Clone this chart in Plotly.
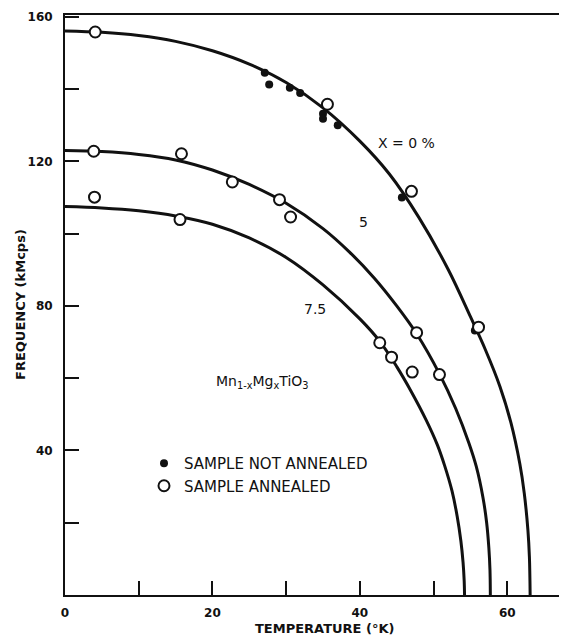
import plotly.graph_objects as go

# ---- fitted curves ----
curve0_T = [0, 5, 10, 15, 20, 25, 30, 35, 40, 44, 48, 52, 55, 57, 59, 60.5, 61.7, 62.3, 62.8, 63.0, 63.1]
curve0_F = [156.1, 155.7, 154.8, 153.2, 150.6, 146.9, 141.8, 134.8, 125.6, 116.5, 104.5, 90.0, 77.0, 68.0,
            57.7, 47.6, 36.3, 28.2, 17.9, 10.5, 0]

curve5_T = [0, 5, 10, 15, 20, 25, 30, 35, 38.6, 42, 45, 47.7, 50.8, 53, 54.8, 55.8, 56.7, 57.2, 57.5, 57.65, 57.7]
curve5_F = [123.0, 122.7, 121.9, 120.4, 117.6, 113.6, 108.4, 101.4, 94.9, 87.6, 80.0, 72.3, 61.2, 51.6, 42.0,
            35.5, 27.0, 20.0, 13.0, 7.0, 0]

curve75_T = [0, 5, 10, 15, 20, 25, 30, 35, 40, 42.7, 45, 47, 49, 50.5, 51.5, 52.5, 53.2, 53.7, 54.0, 54.15, 54.2]
curve75_F = [107.5, 107.1, 106.3, 104.9, 102.6, 98.8, 93.4, 85.8, 76.4, 70.2, 63.2, 56.2, 48.4, 41.6, 35.8,
             28.8, 21.8, 15.0, 9.0, 4.0, 0]

# ---- measured points ----
not_annealed_T = [27.1, 27.7, 30.5, 31.9, 35.0, 35.0, 37.0, 45.7, 55.6]
not_annealed_F = [144.5, 141.3, 140.4, 138.9, 133.2, 131.8, 130.0, 110.0, 73.2]

annealed0_T = [4.1, 35.6, 47.0, 56.1]
annealed0_F = [155.8, 135.8, 111.7, 74.1]
annealed5_T = [3.9, 15.8, 22.7, 29.1, 30.6, 47.7, 50.8]
annealed5_F = [122.8, 122.1, 114.3, 109.4, 104.6, 72.6, 61.0]
annealed75_T = [4.0, 15.6, 42.7, 44.3, 47.1]
annealed75_F = [110.1, 103.9, 69.8, 65.8, 61.7]

# ---- ticks ----
x_tick_vals = [0, 20, 40, 60]
x_tick_text = ["0", "20", "40", "60"]
x_minor_step = 10
y_tick_vals = [40, 80, 120, 160]
y_tick_text = ["40", "80", "120", "160"]
y_minor_step = 20

FONT = "DejaVu Sans"
INK = "#111111"

fig = go.Figure()

for T, F in [(curve0_T, curve0_F), (curve5_T, curve5_F), (curve75_T, curve75_F)]:
    fig.add_trace(go.Scatter(x=T, y=F, mode="lines", line=dict(color=INK, width=3, shape="spline", smoothing=1.0),
                             showlegend=False, hoverinfo="skip"))

fig.add_trace(go.Scatter(x=not_annealed_T, y=not_annealed_F, mode="markers",
                         marker=dict(symbol="circle", size=8, color=INK, line=dict(width=0)),
                         name="SAMPLE NOT ANNEALED", showlegend=True))

ann_T = annealed0_T + annealed5_T + annealed75_T
ann_F = annealed0_F + annealed5_F + annealed75_F
fig.add_trace(go.Scatter(x=ann_T, y=ann_F, mode="markers",
                         marker=dict(symbol="circle", size=11, color="white", line=dict(color=INK, width=2)),
                         name="SAMPLE ANNEALED", showlegend=True))

labels = [("X = 0 %", 46.3, 125.0, 14), ("5", 40.5, 103.2, 14), ("7.5", 33.9, 79.2, 14),
          ("Mn<sub>1-x</sub>Mg<sub>x</sub>TiO<sub>3</sub>", 26.8, 59.0, 14)]
for txt, tx, ty, fs in labels:
    fig.add_annotation(x=tx, y=ty, text=txt, showarrow=False, font=dict(family=FONT, size=fs, color=INK))

fig.add_annotation(xref="paper", yref="paper", x=0.516, y=0, yshift=-33, text="TEMPERATURE (°K)",
                   showarrow=False, yanchor="middle", font=dict(family=FONT, size=13, color=INK, weight="bold"))
fig.add_annotation(xref="paper", yref="paper", x=0, xshift=-45, y=0.5, text="FREQUENCY (kMcps)", textangle=-90,
                   showarrow=False, xanchor="center", font=dict(family=FONT, size=13, color=INK, weight="bold"))

# page body has an 8 px margin: figure is 559x629 so that it fills the 567x637 window
fig.update_layout(
    width=559, height=629, autosize=False,
    margin=dict(l=57, r=0, t=7, b=42),
    paper_bgcolor="white", plot_bgcolor="white",
    legend=dict(x=(144 - 65) / 502, y=(595 - 447) / 580, xanchor="left", yanchor="top",
                bgcolor="rgba(0,0,0,0)", font=dict(family=FONT, size=15, color=INK), itemwidth=30),
    xaxis=dict(range=[0, 68.1], tickvals=x_tick_vals, ticktext=x_tick_text, ticks="inside", ticklen=14,
               tickwidth=1.5, tickcolor=INK, showline=True, linecolor=INK, linewidth=2, mirror=True,
               minor=dict(dtick=x_minor_step, tick0=0, ticks="inside", ticklen=14, tickwidth=1.5, tickcolor=INK,
                          showgrid=False),
               showgrid=False, zeroline=False, ticklabelstandoff=6,
               tickfont=dict(family=FONT, size=12, color=INK, weight="bold")),
    yaxis=dict(range=[0, 160.5], tickvals=y_tick_vals, ticktext=y_tick_text, ticks="inside", ticklen=14,
               tickwidth=1.5, tickcolor=INK, showline=True, linecolor=INK, linewidth=2,
               minor=dict(dtick=y_minor_step, tick0=0, ticks="inside", ticklen=14, tickwidth=1.5, tickcolor=INK,
                          showgrid=False),
               showgrid=False, zeroline=False, ticklabelstandoff=8,
               tickfont=dict(family=FONT, size=12, color=INK, weight="bold")),
)

fig.write_html("out.html")
